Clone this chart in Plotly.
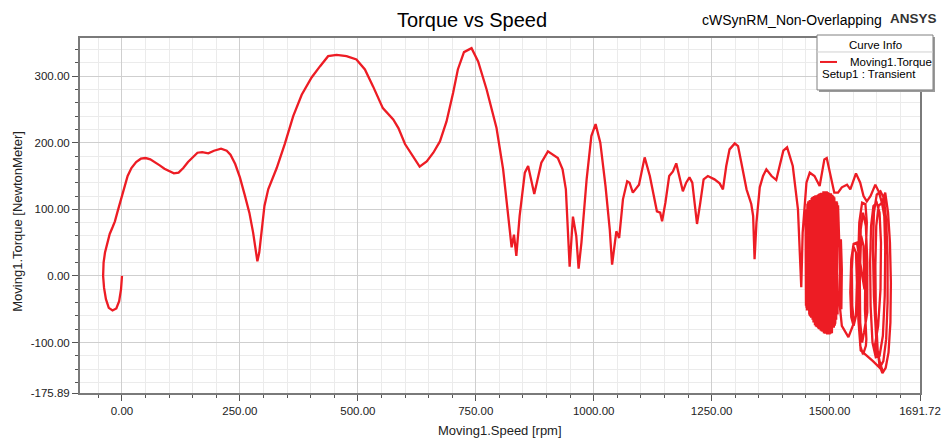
import plotly.graph_objects as go

# (Moving1.Speed [rpm], Moving1.Torque [NewtonMeter]) along the start-up transient
run_up = [
    (0, 0), (-2, -20), (-6, -38), (-12, -49), (-20, -52), (-28, -48), (-34, -35), (-38, -18),
    (-40, 0), (-39, 20), (-36, 35), (-31, 50), (-26, 63), (-20, 73), (-15, 82), (-10, 95),
    (-5, 108), (0, 120), (5, 135), (12, 150), (20, 162), (30, 171), (40, 176), (50, 177),
    (60, 175), (70, 171), (80, 166), (90, 161), (100, 157), (110, 154), (120, 155), (130, 162),
    (140, 171), (150, 178), (160, 185), (170, 186), (183, 184), (195, 188), (210, 191), (222, 188),
    (230, 182), (240, 168), (250, 148), (260, 122), (270, 95), (278, 65), (284, 38), (287, 22),
    (291, 35), (296, 70), (302, 105), (310, 130), (318, 145), (328, 162), (345, 198), (363, 240),
    (381, 272), (402, 298), (420, 315), (437, 330), (455, 332), (476, 330), (497, 325), (515, 310),
    (532, 285), (553, 252), (575, 235), (586, 222), (600, 198), (614, 182), (631, 164), (646, 172),
    (660, 185), (674, 202), (688, 232), (702, 275), (712, 310), (725, 336), (741, 342), (755, 322),
    (773, 280), (794, 222), (808, 160), (818, 95), (826, 43), (831, 62), (836, 30), (843, 90),
    (854, 155), (861, 165), (874, 123), (889, 170), (903, 187), (924, 177), (934, 160), (941, 130),
    (949, 14), (956, 89), (963, 60), (968, 11), (974, 50), (985, 145), (995, 210), (1004, 228),
    (1014, 200), (1025, 135), (1034, 70), (1039, 17), (1048, 67), (1054, 57), (1062, 115), (1071, 142),
    (1076, 140), (1083, 125), (1096, 137), (1108, 178), (1119, 150), (1134, 97), (1141, 95), (1145, 82),
    (1152, 110), (1160, 150), (1168, 157), (1175, 169), (1182, 150), (1189, 127), (1196, 140), (1203, 148),
    (1209, 140), (1219, 78), (1226, 110), (1233, 145), (1242, 150), (1256, 145), (1267, 139), (1274, 130),
    (1281, 165), (1288, 190), (1299, 199), (1306, 195), (1313, 170), (1324, 130), (1334, 108), (1338, 90),
    (1341, 25), (1345, 80), (1352, 133), (1359, 150), (1366, 160), (1377, 150), (1387, 144), (1394, 165),
    (1402, 188), (1410, 193), (1416, 180), (1422, 165), (1433, 100), (1438, 20), (1440, -17), (1443, 65),
    (1451, 140), (1458, 155), (1468, 150), (1479, 135), (1489, 175), (1494, 177), (1503, 150), (1510, 125),
    (1518, 125), (1526, 133), (1537, 137), (1544, 130), (1556, 154), (1565, 140), (1572, 120), (1579, 112),
    (1587, 120), (1597, 137), (1604, 127), (1611, 110), (1618, 125), (1624, 95),
]

# speed overshoot: large torque swings above synchronous speed
overshoot = [
    (1628, 50), (1630, -10), (1629, -70), (1625, -115), (1619, -138), (1612, -146), (1606, -135),
    (1599, -95), (1594, -30), (1592, 40), (1594, 95), (1600, 122), (1608, 127), (1615, 117),
    (1620, 85), (1623, 30), (1623, -40), (1620, -95), (1614, -128), (1608, -136), (1602, -112),
    (1598, -55), (1597, 15), (1599, 75), (1604, 105), (1611, 110), (1616, 90), (1618, 40),
    (1617, -30), (1613, -90), (1606, -120), (1598, -122), (1591, -100), (1587, -45), (1586, 20),
    (1588, 75), (1593, 105), (1600, 110), (1606, 95), (1609, 50), (1608, -20), (1603, -75),
    (1596, -105), (1612, -142), (1592, -128), (1574, -116), (1566, -112),
    (1561, -65), (1560, 10), (1563, 80), (1569, 110), (1576, 108), (1579, 80), (1576, 20),
    (1575, -50), (1578, -95), (1577, -105), (1571, -118), (1565, -105), (1564, -20), (1566, 70),
    (1571, 95), (1577, 75), (1580, 20), (1580, -55), (1573, -85), (1569, -100), (1565, -70),
    (1564, 0), (1567, 60), (1572, 45), (1574, -20),
    (1558, 50), (1551, 48), (1546, 25), (1544, -25), (1546, -62), (1551, -75), (1556, -60),
    (1558, -10), (1556, 35), (1550, 45), (1547, 10), (1548, -45), (1552, -70),
    (1540, -92), (1526, -75), (1521, -40), (1522, 20), (1524, 55), (1526, 10), (1525, -50),
]

# settling ripple around synchronous speed
settle = [
    (1518, 106), (1512, -72), (1506, 122), (1500, -88), (1494, 127), (1488, -86), (1482, 125),
    (1476, -79), (1470, 121), (1464, -66), (1458, 114), (1452, -50), (1449, 100), (1450, -45),
    (1454, 110), (1458, -60), (1462, 117), (1466, -70), (1472, 121), (1478, -80), (1484, 125),
    (1490, -87), (1496, 126), (1502, -87), (1508, 120), (1514, -66), (1516, 110), (1511, -75),
    (1503, 124), (1497, -88), (1491, 127), (1485, -84), (1479, 124), (1473, -77), (1467, 120),
    (1461, -63), (1455, 112), (1451, -48), (1453, 108), (1457, -58), (1463, 118), (1469, -74),
    (1475, 122), (1481, -82), (1487, 127), (1493, -87), (1499, 125), (1505, -86), (1510, 118),
    (1517, -58), (1515, 112), (1509, -78), (1501, 124), (1495, -88), (1489, 127), (1483, -83),
    (1477, 123), (1471, -76), (1465, 119), (1459, -61), (1456, 112), (1452, -52), (1460, 60),
    (1474, -30), (1486, 90), (1498, -60), (1507, 80), (1492, 20),
]

x_tick_vals = [0, 250, 500, 750, 1000, 1250, 1500, 1691.72]
y_tick_vals = [-175.89, -100, 0, 100, 200, 300]
x_minor_vals = [v for v in range(-50, 1691, 50) if v % 250 != 0]
y_minor_vals = [v for v in range(-160, 357, 20) if v % 100 != 0]
x_range = [-89, 1691.72]
y_range = [-175.89, 357.3]

points = run_up + overshoot + settle
speed = [p[0] for p in points]
torque = [p[1] for p in points]

FONT = "Liberation Sans, Arial, sans-serif"
RED = "#ED1C24"

fig = go.Figure()
fig.add_trace(go.Scatter(
    x=speed, y=torque, mode="lines", name="Moving1.Torque",
    line=dict(color=RED, width=2.3), showlegend=False,
))

axis_common = dict(
    showline=True, linecolor="#7a7a7a", linewidth=2, mirror=True,
    ticks="outside", ticklen=6, tickcolor="#555555", tickwidth=1,
    showgrid=True, gridcolor="#cfcfcf", gridwidth=1, zeroline=False,
    automargin=False,
    tickfont=dict(family=FONT, size=11.5, color="#222222"),
)

fig.update_xaxes(
    range=x_range, tickmode="array", tickvals=x_tick_vals,
    ticktext=[f"{v:.2f}" for v in x_tick_vals],
    minor=dict(tickmode="array", tickvals=x_minor_vals, ticks="outside", ticklen=3,
               tickcolor="#555555", showgrid=True, gridcolor="#ebebeb"),
    **axis_common,
)
fig.update_yaxes(
    range=y_range, tickmode="array", tickvals=y_tick_vals,
    ticktext=[f"{v:.2f}" for v in y_tick_vals],
    minor=dict(tickmode="array", tickvals=y_minor_vals, ticks="outside", ticklen=3,
               tickcolor="#555555", showgrid=True, gridcolor="#ebebeb"),
    **axis_common,
)

L, R, T, B = 80, 22, 38, 44.5
W, H = 942, 438
pw, ph = W - L - R, H - T - B


def px(x):
    return (x - L) / pw


def py(y):
    return (H - B - y) / ph


annotations = [
    dict(text="Torque vs Speed", x=px(472), y=py(20), font=dict(family=FONT, size=20, color="#000000")),
    dict(text="cWSynRM_Non-Overlapping", x=px(792), y=py(20), font=dict(family=FONT, size=14, color="#000000")),
    dict(text="<b>ANSYS</b>", x=px(913), y=py(18), font=dict(family=FONT, size=13.5, color="#333333")),
    dict(text="Moving1.Speed [rpm]", x=px(500), y=py(431), font=dict(family=FONT, size=13, color="#222222")),
    dict(text="Moving1.Torque [NewtonMeter]", x=px(18), y=py(222), textangle=-90,
         font=dict(family=FONT, size=13, color="#222222")),
    dict(text="Curve Info", x=px(875), y=py(45), font=dict(family=FONT, size=11.5, color="#000000")),
    dict(text="Moving1.Torque", x=px(848), y=py(62), xanchor="left",
         font=dict(family=FONT, size=11.5, color="#000000")),
    dict(text="Setup1 : Transient", x=px(820), y=py(74), xanchor="left",
         font=dict(family=FONT, size=11.5, color="#000000")),
]
for a in annotations:
    a.setdefault("xanchor", "center")
    a.update(xref="paper", yref="paper", yanchor="middle", showarrow=False)

shapes = [
    dict(type="rect", x0=px(819), x1=px(935), y0=py(92), y1=py(37),
         fillcolor="#9a9a9a", line=dict(width=0)),
    dict(type="rect", x0=px(817), x1=px(933), y0=py(90), y1=py(35),
         fillcolor="#ffffff", line=dict(color="#808080", width=1)),
    dict(type="line", x0=px(817), x1=px(933), y0=py(52), y1=py(52),
         line=dict(color="#d0d0d0", width=1)),
    dict(type="line", x0=px(820), x1=px(837), y0=py(62), y1=py(62),
         line=dict(color=RED, width=2)),
]
for s in shapes:
    s.update(xref="paper", yref="paper")

fig.update_layout(
    width=W, height=H,
    margin=dict(l=L, r=R, t=T, b=B),
    paper_bgcolor="#ffffff", plot_bgcolor="#ffffff",
    showlegend=False,
    annotations=annotations, shapes=shapes,
)

fig.write_html("out.html")
